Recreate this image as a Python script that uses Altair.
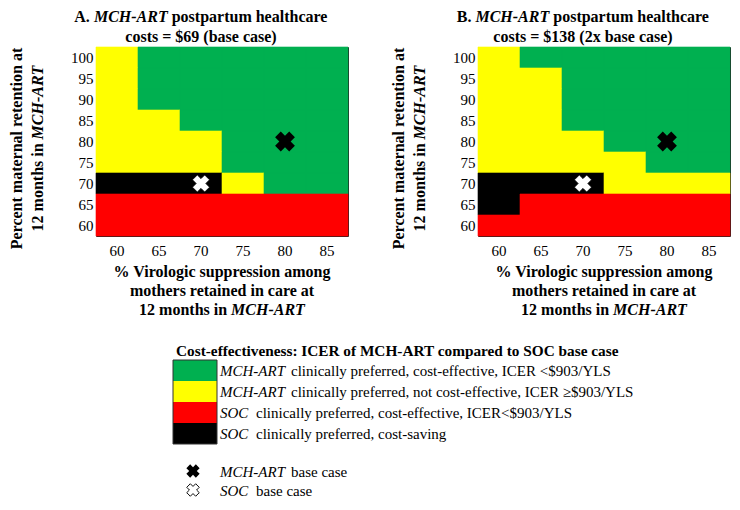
import altair as alt
import pandas as pd

# ---------------- data ----------------
x_values = [60, 65, 70, 75, 80, 85]                      # % virologic suppression
y_values = [100, 95, 90, 85, 80, 75, 70, 65, 60]         # % maternal retention (top -> bottom)

# G = MCH-ART preferred & cost-effective, Y = MCH-ART preferred not cost-effective,
# R = SOC preferred cost-effective, K = SOC preferred cost-saving
panel_a_rows = ["YGGGGG", "YGGGGG", "YGGGGG", "YYGGGG", "YYYGGG",
                "YYYGGG", "KKKYGG", "RRRRRR", "RRRRRR"]
panel_b_rows = ["YGGGGG", "YYGGGG", "YYGGGG", "YYGGGG", "YYYGGG",
                "YYYYGG", "KKKYYY", "KRRRRR", "RRRRRR"]

category_codes = ["G", "Y", "R", "K"]
category_colors = ["#00B050", "#FFFF00", "#FF0000", "#000000"]

legend_italic = ["MCH-ART", "MCH-ART", "SOC", "SOC"]
legend_rest = [
    "clinically preferred, cost-effective, ICER <$903/YLS",
    "clinically preferred, not cost-effective, ICER \u2265$903/YLS",
    "clinically preferred, cost-effective, ICER<$903/YLS",
    "clinically preferred, cost-saving",
]

mch_art_base = {"vs": [80], "ret": [80]}
soc_base = {"vs": [70], "ret": [70]}

FONT = "Liberation Serif"
W, H = 252, 189


def grid_df(rows):
    recs = []
    for yi, row in zip(y_values, rows):
        for xi, code in zip(x_values, row):
            recs.append({"vs": xi, "ret": yi, "code": code})
    return pd.DataFrame(recs)


def txt(s, x, y, size=16, bold=True, italic=False, align="left", angle=None):
    mk = dict(font=FONT, fontSize=size, fontWeight="bold" if bold else "normal",
              fontStyle="italic" if italic else "normal", align=align,
              baseline="alphabetic", color="black")
    if angle is not None:
        mk["angle"] = angle
    return alt.Chart(pd.DataFrame({"t": [s]})).mark_text(**mk).encode(
        text="t:N", x=alt.value(x), y=alt.value(y))


xscale = alt.Scale(domain=x_values, paddingInner=0, paddingOuter=0)
yscale = alt.Scale(domain=y_values, paddingInner=0, paddingOuter=0)
xaxis = alt.Axis(title=None, ticks=False, domain=False, labelFont=FONT, labelFontSize=15,
                 labelColor="black", labelPadding=7, labelAngle=0)
yaxis = alt.Axis(title=None, ticks=False, domain=False, labelFont=FONT, labelFontSize=15,
                 labelColor="black", labelPadding=3)


def panel(rows, letter, letter_w, cost_line, legend=False):
    df = grid_df(rows)
    cscale = alt.Scale(domain=category_codes, range=category_colors)
    heat = alt.Chart(df).mark_rect(strokeWidth=0.6).encode(
        x=alt.X("vs:O", scale=xscale, axis=xaxis),
        y=alt.Y("ret:O", scale=yscale, axis=yaxis),
        color=alt.Color("code:N", scale=cscale, legend=None),
        stroke=alt.Stroke("code:N", scale=cscale, legend=None),
    )
    m1 = alt.Chart(pd.DataFrame(mch_art_base)).mark_point(
        shape="cross", angle=45, filled=True, size=400, color="black", opacity=1
    ).encode(x=alt.X("vs:O"), y=alt.Y("ret:O"))
    m2 = alt.Chart(pd.DataFrame(soc_base)).mark_point(
        shape="cross", angle=45, filled=True, size=300, fill="white", stroke="black",
        strokeWidth=0.8, opacity=1
    ).encode(x=alt.X("vs:O"), y=alt.Y("ret:O"))

    layers = [heat, m1, m2]

    # panel title (mixed bold / bold italic)
    center = 105
    total = letter_w + 4 + 73.8 + 4 + 156
    left = center - total / 2
    layers += [
        txt(letter, left, -25),
        txt("MCH-ART", left + letter_w + 4, -25, italic=True),
        txt("postpartum healthcare", left + letter_w + 4 + 73.8 + 4, -25),
        txt(cost_line, center, -5, align="center"),
    ]

    # y axis title
    c = H / 2 + 7
    layers += [
        txt("Percent maternal retention at", -74, c, align="center", angle=270),
        txt("12 months in", -53, c + 82.9, angle=270),
        txt("MCH-ART", -53, c - 9.1, italic=True, angle=270),
    ]

    # x axis title
    layers += [
        txt("% Virologic suppression among", W / 2, H + 41, align="center"),
        txt("mothers retained in care at", W / 2, H + 60, align="center"),
        txt("12 months in", W / 2 - 82.9, H + 79),
        txt("MCH-ART", W / 2 - 82.9 + 92, H + 79, italic=True),
    ]

    if legend:
        lx = 77
        tx = lx + 47
        layers.append(txt("Cost-effectiveness: ICER of MCH-ART compared to SOC base case",
                          lx + 3, H + 120, size=15.3))
        top = H + 124
        for i, (col, it, rest) in enumerate(zip(category_colors, legend_italic, legend_rest)):
            layers.append(
                alt.Chart(pd.DataFrame({"c": [col]})).mark_rect(color=col).encode(
                    x=alt.value(lx), x2=alt.value(lx + 44),
                    y=alt.value(top + 21 * i), y2=alt.value(top + 21 * (i + 1)))
            )
            off = 71 if it == "MCH-ART" else 36
            layers.append(txt(it, tx, top + 16 + 21 * i, size=15, bold=False, italic=True))
            layers.append(txt(rest, tx + off, top + 16 + 21 * i, size=15, bold=False))
        layers.append(
            alt.Chart(pd.DataFrame({"c": ["outline"]})).mark_rect(
                fill=None, fillOpacity=0, stroke="#333", strokeWidth=1).encode(
                x=alt.value(lx), x2=alt.value(lx + 44),
                y=alt.value(top), y2=alt.value(top + 84))
        )
        # marker legend
        my1, my2 = H + 235, H + 254
        mx = lx + 20
        layers.append(
            alt.Chart(pd.DataFrame({"k": ["MCH-ART base case"]})).mark_point(
                shape="cross", angle=45, filled=True, size=180, color="black", opacity=1
            ).encode(x=alt.value(mx), y=alt.value(my1)))
        layers.append(
            alt.Chart(pd.DataFrame({"k": ["SOC base case"]})).mark_point(
                shape="cross", angle=45, filled=True, size=160, fill="white", stroke="black",
                strokeWidth=0.9, opacity=1
            ).encode(x=alt.value(mx), y=alt.value(my2)))
        layers += [
            txt("MCH-ART", tx, my1 + 6, size=15, bold=False, italic=True),
            txt("base case", tx + 71, my1 + 6, size=15, bold=False),
            txt("SOC", tx, my2 + 6, size=15, bold=False, italic=True),
            txt("base case", tx + 36, my2 + 6, size=15, bold=False),
        ]

    return alt.layer(*layers).properties(width=W, height=H)


panel_a = panel(panel_a_rows, "A.", 15.6, "costs = $69 (base case)", legend=True)
panel_b = panel(panel_b_rows, "B.", 14.7, "costs = $138 (2x base case)")

chart = alt.hconcat(panel_a, panel_b, spacing=130, bounds="flush").properties(
    padding=0
).configure_view(stroke="#222", strokeWidth=1)

chart.save("out.html", embed_options={"renderer": "svg", "actions": False})
